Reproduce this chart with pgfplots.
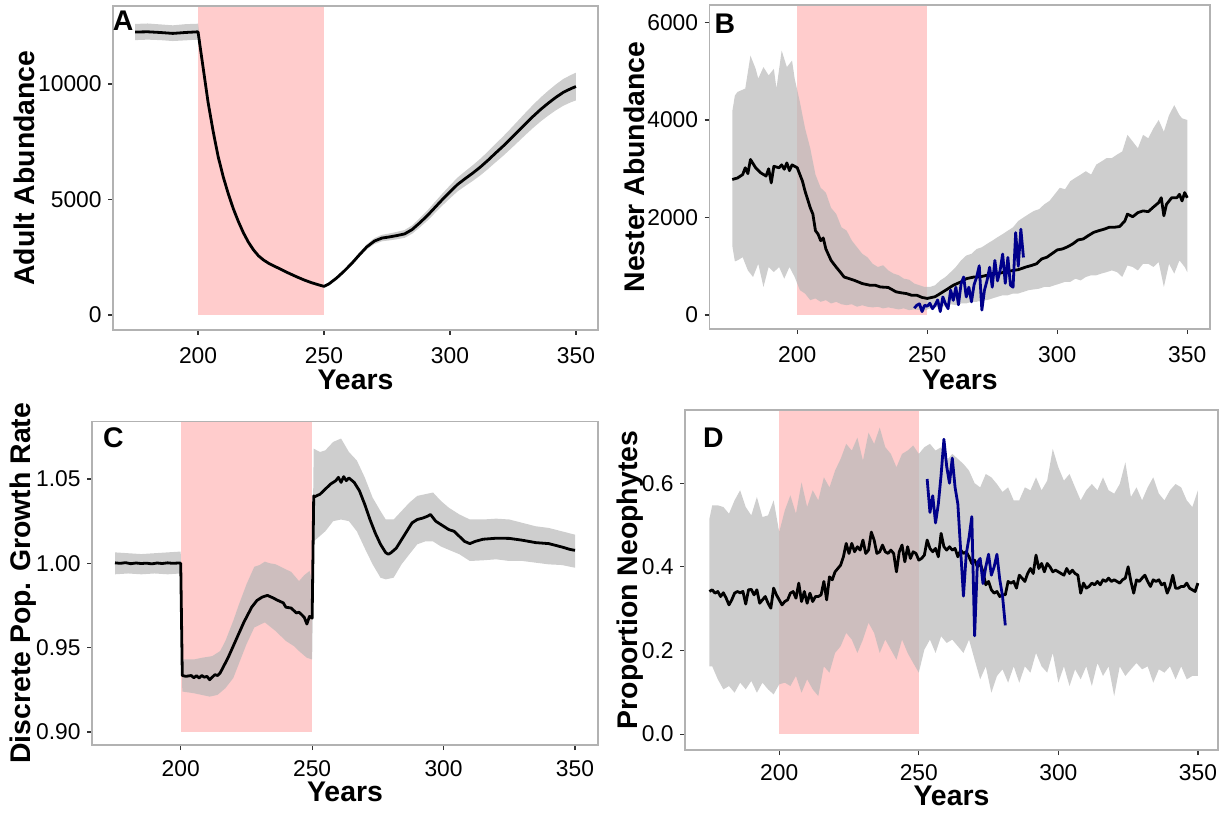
\documentclass[border=0pt]{standalone}
\usepackage{pgfplots}
\pgfplotsset{compat=1.18}
\usepackage{pgfplotstable}
\usepgfplotslibrary{fillbetween}
\usepackage{fontspec}
\setmainfont{Liberation Sans}
\definecolor{pinkc}{RGB}{255,204,204}
\definecolor{ribc}{RGB}{185,185,185}
\definecolor{obsblue}{RGB}{0,0,139}
\newcommand\tickf{\fontsize{11.4}{13}\selectfont}
\newcommand\labf{\fontsize{14.2}{16}\selectfont\bfseries}

\pgfplotstableread{
yr m lo hi
175 12250 11900 12600
180 12260 11920 12620
185 12230 11900 12580
190 12190 11860 12540
195 12230 11890 12590
200 12260 11920 12610
202 10720 10600 10850
204 9200 9080 9320
206 7950 7840 8060
208 6850 6750 6950
210 5980 5890 6070
212 5250 5170 5330
214 4600 4530 4670
216 4050 3990 4110
218 3560 3500 3620
220 3150 3100 3200
222 2820 2770 2870
224 2560 2510 2610
226 2380 2330 2430
228 2240 2190 2290
230 2130 2080 2180
233 1970 1920 2020
236 1810 1760 1860
239 1660 1610 1710
242 1520 1470 1570
245 1400 1350 1450
248 1300 1250 1350
250 1240 1190 1290
252 1350 1290 1410
255 1600 1530 1670
258 1900 1820 1980
261 2230 2140 2320
264 2600 2500 2700
267 2950 2840 3060
270 3200 3070 3330
273 3330 3190 3470
276 3380 3230 3530
279 3440 3280 3600
282 3510 3340 3680
285 3700 3520 3880
288 3990 3790 4190
291 4300 4080 4520
294 4650 4410 4890
297 5000 4740 5260
300 5330 5050 5610
303 5650 5350 5950
306 5900 5580 6220
309 6140 5800 6480
312 6400 6040 6760
315 6690 6310 7070
318 7000 6600 7400
321 7300 6880 7720
324 7620 7180 8060
327 7950 7490 8410
330 8280 7800 8760
333 8600 8100 9100
336 8900 8380 9420
339 9170 8630 9710
342 9420 8860 9980
345 9640 9060 10220
348 9800 9210 10390
350 9890 9290 10490
}\tA

\pgfplotstableread{
yr v
175 2780
177 2810
179 2880
180 3020
181 2900
182 3190
184 3020
186 2915
188 2850
189 3000
190 2710
191 3050
193 3020
194 3080
195 2990
196 3120
197 2960
198 3080
200 3020
202 2745
203 2540
205 2200
206 2070
207 1730
208 1660
209 1525
210 1580
211 1355
213 1120
215 980
217 850
218 780
220 745
222 710
225 645
228 610
230 610
232 575
235 565
238 475
240 455
242 440
244 405
246 405
248 360
250 340
253 375
255 440
258 540
260 610
263 680
265 745
268 780
270 780
273 815
275 850
278 860
280 880
283 915
285 930
288 985
290 1015
292 1050
294 1150
296 1185
298 1260
300 1335
302 1355
304 1400
306 1460
308 1540
310 1560
312 1630
314 1695
316 1730
318 1760
320 1800
322 1800
324 1815
326 1930
327 2070
329 2015
331 2100
333 2135
335 2120
337 2215
339 2305
340 2405
341 2035
342 2270
344 2405
346 2405
347 2475
348 2340
349 2510
350 2405
}\tBm

\pgfplotstableread{
yr v
175 4170
176 4500
177 4575
180 4645
182 5320
184 5050
185 4850
187 5085
189 4915
191 5050
192 4645
194 5425
196 5085
198 5220
199 4850
201 4370
203 3830
205 3420
207 2880
209 2610
211 2510
213 2200
215 2070
217 1800
219 1730
221 1525
223 1390
225 1255
227 1185
229 1050
231 985
233 1020
235 915
237 850
239 815
241 745
243 725
245 645
247 610
249 575
251 575
253 610
255 710
257 780
259 880
261 985
263 1120
265 1220
267 1255
269 1355
271 1390
273 1460
275 1525
277 1595
279 1660
281 1730
283 1800
285 1930
287 2000
289 2070
291 2135
293 2170
295 2270
297 2340
299 2475
301 2610
303 2580
305 2745
307 2815
309 2880
311 2950
313 2880
315 3085
317 3150
319 3220
321 3220
323 3290
325 3355
327 3695
329 3560
331 3420
333 3695
335 3625
337 3830
339 4000
341 3760
343 4100
345 4305
347 4100
348 4035
350 4000
}\tBu

\pgfplotstableread{
yr v
175 1425
176 1100
177 1120
179 1185
181 915
183 780
185 1050
187 575
189 985
191 880
193 985
195 745
197 985
199 780
201 510
203 440
205 305
207 340
209 270
211 305
213 237
215 270
217 220
219 203
221 220
223 170
225 200
227 170
229 156
231 170
233 136
235 156
237 136
239 115
241 136
243 100
245 115
247 100
249 88
251 136
253 156
255 170
257 183
259 220
261 203
263 237
265 237
267 270
269 270
271 305
273 305
275 340
277 373
279 405
281 405
283 440
285 440
287 475
289 510
291 525
293 540
295 575
297 575
299 610
301 645
303 680
305 680
307 745
309 710
311 780
313 815
315 815
317 850
319 880
321 915
323 880
325 780
327 1015
329 985
331 915
333 1050
335 1050
337 985
339 1085
341 575
343 1050
345 850
347 1120
349 985
350 880
}\tBl

\pgfplotstableread{
yr v
245 140
246 200
247 230
248 70
249 200
250 180
251 240
252 130
253 200
254 310
255 70
256 370
257 230
258 130
259 510
260 300
261 570
262 210
263 640
264 780
265 370
266 570
267 270
268 620
269 780
270 1010
271 100
272 510
273 710
274 980
275 570
276 1120
277 700
278 910
279 1250
280 650
281 1180
282 610
283 570
284 1690
285 1000
286 1760
287 1180
}\tBo

\pgfplotstableread{
yr v
175 1.0003
177 1.0000
179 1.0004
181 0.9998
183 1.0002
185 0.9999
187 1.0001
189 0.9997
191 1.0002
193 0.9999
195 1.0003
197 1.0000
199 1.0002
200 1.0001
200.6 0.9335
202 0.9330
204 0.9335
205 0.9322
206 0.9334
207 0.9320
208 0.9335
209 0.9325
210 0.9330
211 0.9310
212 0.9325
213 0.9340
214 0.9335
215 0.9350
216 0.9380
218 0.9440
220 0.9510
222 0.9580
224 0.9650
225 0.9680
227 0.9740
229 0.9780
231 0.9800
233 0.9810
235 0.9796
237 0.9780
239 0.9766
240 0.9740
242 0.9735
244 0.9706
245 0.9710
246 0.9696
247 0.9680
248 0.9640
249 0.9686
250 0.9675
250.6 1.0400
251 1.0395
253 1.0410
255 1.0440
257 1.0470
259 1.0490
260 1.0510
261 1.0480
262 1.0514
263 1.0490
264 1.0506
266 1.0480
268 1.0430
270 1.0350
272 1.0260
274 1.0180
276 1.0113
278 1.0063
279 1.0054
280 1.0063
282 1.0090
284 1.0140
286 1.0190
288 1.0240
290 1.0260
292 1.0268
294 1.0280
295 1.0290
297 1.0250
300 1.0220
302 1.0200
304 1.0190
306 1.0160
308 1.0130
310 1.0117
312 1.0130
315 1.0143
320 1.0149
325 1.0148
330 1.0137
335 1.0123
340 1.0117
345 1.0097
348 1.0083
350 1.0077
}\tCm

\pgfplotstableread{
yr v
175 1.0065
180 1.0060
185 1.0055
190 1.0060
195 1.0065
200 1.0070
200.6 0.9430
205 0.9430
208 0.9440
212 0.9450
215 0.9480
217 0.9540
220 0.9660
222 0.9750
225 0.9875
228 0.9980
230 0.9990
232 1.0010
234 1.0000
236 0.9995
238 0.9980
240 0.9964
242 0.9950
245 0.9895
247 0.9930
249 0.9955
250 0.9900
250.6 1.0680
253 1.0660
255 1.0670
258 1.0720
261 1.0740
264 1.0660
267 1.0610
270 1.0510
273 1.0390
276 1.0310
278 1.0260
281 1.0260
284 1.0310
287 1.0360
290 1.0400
293 1.0410
296 1.0420
299 1.0370
302 1.0330
306 1.0290
310 1.0260
315 1.0260
320 1.0265
325 1.0260
330 1.0240
335 1.0220
340 1.0210
345 1.0190
350 1.0170
}\tCu

\pgfplotstableread{
yr v
175 0.9935
180 0.9940
185 0.9935
190 0.9940
195 0.9935
200 0.9940
200.6 0.9240
205 0.9230
208 0.9220
211 0.9210
214 0.9220
217 0.9260
220 0.9320
222 0.9400
225 0.9520
228 0.9620
232 0.9650
236 0.9600
240 0.9540
243 0.9510
245 0.9480
248 0.9440
250 0.9430
250.6 1.0130
255 1.0190
258 1.0250
261 1.0260
264 1.0250
267 1.0190
270 1.0090
273 0.9994
276 0.9915
278 0.9905
281 0.9915
284 0.9994
287 1.0054
290 1.0113
293 1.0130
296 1.0130
299 1.0100
302 1.0080
306 1.0054
310 1.0014
315 1.0018
320 1.0024
325 1.0014
330 1.0014
335 1.0004
340 0.9994
345 0.9990
350 0.9974
}\tCl

\pgfplotstableread{
yr v
175 .341
176 .345
177 .337
178 .341
179 .329
180 .338
181 .325
182 .309
183 .321
184 .337
185 .341
186 .338
187 .341
188 .311
189 .345
190 .346
191 .333
192 .345
193 .313
194 .321
195 .329
196 .313
197 .301
198 .349
199 .333
200 .321
201 .309
202 .317
203 .321
204 .337
205 .341
206 .325
207 .361
208 .317
209 .341
210 .313
211 .337
212 .317
213 .329
214 .329
215 .333
216 .365
217 .321
218 .376
219 .369
220 .388
221 .396
222 .404
223 .424
224 .456
225 .432
226 .456
227 .436
228 .448
229 .440
230 .464
231 .432
232 .440
233 .483
234 .464
235 .432
236 .436
237 .452
238 .436
239 .432
240 .440
241 .432
242 .388
243 .436
244 .452
245 .412
246 .448
247 .420
248 .436
249 .432
250 .416
251 .420
252 .428
253 .464
254 .444
255 .436
256 .444
257 .424
258 .480
259 .448
260 .440
261 .448
262 .440
263 .444
264 .424
265 .440
266 .432
267 .436
268 .424
269 .408
270 .416
271 .400
272 .408
273 .388
274 .357
275 .365
276 .345
277 .337
278 .341
279 .329
280 .333
281 .333
282 .365
283 .361
284 .365
285 .349
286 .380
287 .373
288 .365
289 .384
290 .396
291 .384
292 .428
293 .396
294 .408
295 .388
296 .408
297 .400
298 .388
299 .392
300 .388
301 .384
302 .380
303 .396
304 .384
305 .392
306 .384
307 .380
308 .337
309 .361
310 .349
311 .353
312 .361
313 .357
314 .365
315 .357
316 .369
317 .365
318 .373
319 .365
320 .369
321 .365
322 .361
323 .369
324 .373
325 .400
326 .365
327 .337
328 .369
329 .365
330 .373
331 .380
332 .365
333 .353
334 .369
335 .365
336 .369
337 .357
338 .361
339 .337
340 .353
341 .380
342 .349
343 .349
344 .353
345 .353
346 .361
347 .349
348 .345
349 .341
350 .361
}\tDm

\pgfplotstableread{
yr v
175 .515
176 .547
178 .547
180 .543
182 .527
184 .559
186 .583
188 .543
190 .523
192 .567
194 .519
196 .523
198 .559
200 .483
202 .535
204 .571
206 .527
208 .602
210 .543
212 .583
214 .559
216 .614
218 .590
220 .630
222 .658
224 .694
226 .678
228 .709
230 .654
232 .721
234 .694
236 .733
238 .686
240 .670
242 .638
244 .670
246 .678
248 .690
250 .670
252 .686
254 .694
256 .678
258 .686
260 .654
262 .670
264 .658
266 .646
268 .630
270 .600
272 .590
274 .622
276 .614
278 .598
280 .579
282 .590
284 .559
286 .559
288 .590
290 .583
292 .614
294 .583
296 .606
298 .682
300 .638
302 .606
304 .622
306 .590
308 .559
310 .583
312 .598
314 .583
316 .614
318 .583
320 .575
322 .598
324 .650
326 .567
328 .590
330 .559
332 .590
334 .614
336 .575
338 .559
340 .583
342 .598
344 .590
346 .559
348 .543
350 .583
}\tDu

\pgfplotstableread{
yr v
175 .162
176 .162
178 .131
180 .107
182 .115
184 .099
186 .123
188 .107
190 .127
192 .099
194 .123
196 .107
198 .095
200 .119
202 .123
204 .115
206 .139
208 .099
210 .131
212 .107
214 .091
216 .162
218 .147
220 .194
222 .210
224 .242
226 .226
228 .194
230 .226
232 .266
234 .242
236 .194
238 .226
240 .202
242 .178
244 .226
246 .194
248 .170
250 .147
252 .202
254 .226
256 .194
258 .234
260 .218
262 .226
264 .210
266 .194
268 .226
270 .178
272 .131
274 .162
276 .099
278 .139
280 .155
282 .123
284 .162
286 .123
288 .162
290 .147
292 .194
294 .162
296 .147
298 .194
300 .123
302 .162
304 .115
306 .155
308 .131
310 .162
312 .115
314 .170
316 .139
318 .162
320 .091
322 .162
324 .139
326 .155
328 .170
330 .155
332 .162
334 .123
336 .155
338 .147
340 .162
342 .131
344 .162
346 .131
348 .139
350 .139
}\tDl

\pgfplotstableread{
yr v
253 0.61
254 0.53
255 0.57
256 0.505
257 0.55
258 0.62
259 0.705
260 0.64
261 0.60
262 0.66
263 0.59
264 0.55
265 0.44
266 0.33
267 0.43
268 0.47
269 0.52
270 0.235
271 0.41
272 0.42
273 0.36
274 0.40
275 0.43
276 0.38
277 0.40
278 0.43
279 0.37
280 0.33
281 0.26
}\tDo

\pgfplotsset{
  panel/.style={
    scale only axis,
    set layers,
    xmin=166.25, xmax=358.75,
    axis line style={draw=black!30, line width=0.6pt},
    tick style={draw=black!80, line width=0.6pt},
    tick align=outside,
    major tick length=2.5pt,
    tick pos=left,
    xtick={200,250,300,350},
    scaled ticks=false,
    /pgf/number format/assume math mode=true,
    /pgf/number format/1000 sep={},
    ticklabel style={font=\tickf, text=black},
    xticklabel style={anchor=north, inner sep=0pt, yshift=-6pt},
    yticklabel style={anchor=east, inner sep=0pt, xshift=-3pt},
    label style={font=\labf},
    xlabel={Years},
    clip=true,
  },
  pinkrect/.style={fill=pinkc, draw=none, on layer=axis background},
  rib/.style={fill=ribc, fill opacity=0.7, draw=none},
  mline/.style={black, line width=1.4pt, line join=round},
  oline/.style={obsblue, line width=1.4pt, line join=round},
}

\begin{document}
\begin{tikzpicture}

% Panel A
\begin{axis}[panel, at={(56.5pt,239pt)}, anchor=south west,
  width=242.5pt, height=162pt,
  ymin=-650, ymax=13377, ytick={0,5000,10000},
  ylabel={Adult Abundance},
  ylabel style={at={(axis description cs:-0.182,0.5)}, anchor=center},
  xlabel style={at={(axis description cs:0.5,0)}, anchor=center, yshift=-25pt}]
\addplot[pinkrect] coordinates {(200,0) (250,0) (250,13377) (200,13377)} -- cycle;
\addplot[draw=none, name path=Au] table[x=yr, y=hi]{\tA};
\addplot[draw=none, name path=Al] table[x=yr, y=lo]{\tA};
\addplot[rib] fill between[of=Au and Al];
\addplot[mline] table[x=yr, y=m]{\tA};
\node[font=\labf, inner sep=0pt, anchor=center] at (axis cs:170.3,12727) {A};
\end{axis}

% Panel B
\begin{axis}[panel, at={(354.75pt,239.5pt)}, anchor=south west,
  width=250.25pt, height=162pt,
  ymin=-287, ymax=6359, ytick={0,2000,4000,6000},
  ylabel={Nester Abundance},
  ylabel style={at={(axis description cs:-0.151,0.5)}, anchor=center},
  xlabel style={at={(axis description cs:0.5,0)}, anchor=center, yshift=-25.2pt}]
\addplot[pinkrect] coordinates {(200,0) (250,0) (250,6359) (200,6359)} -- cycle;
\addplot[draw=none, name path=Bu] table[x=yr, y=v]{\tBu};
\addplot[draw=none, name path=Bl] table[x=yr, y=v]{\tBl};
\addplot[rib] fill between[of=Bu and Bl];
\addplot[mline] table[x=yr, y=v]{\tBm};
\addplot[oline] table[x=yr, y=v]{\tBo};
\node[font=\labf, inner sep=0pt, anchor=center] at (axis cs:172.2,5969) {B};
\end{axis}

% Panel C
\begin{axis}[panel, at={(46pt,31.5pt)}, anchor=south west,
  width=253pt, height=161.75pt,
  ymin=0.8923, ymax=1.0841, ytick={0.90,0.95,1.00,1.05},
  xticklabel style={yshift=1pt},
  yticklabel style={/pgf/number format/fixed, /pgf/number format/fixed zerofill, /pgf/number format/precision=2},
  ylabel={Discrete Pop. Growth Rate},
  ylabel style={at={(axis description cs:-0.137,0.5)}, anchor=center},
  xlabel style={at={(axis description cs:0.5,0)}, anchor=center, yshift=-23.5pt}]
\addplot[pinkrect] coordinates {(200,0.90) (250,0.90) (250,1.0841) (200,1.0841)} -- cycle;
\addplot[draw=none, name path=Cu] table[x=yr, y=v]{\tCu};
\addplot[draw=none, name path=Cl] table[x=yr, y=v]{\tCl};
\addplot[rib] fill between[of=Cu and Cl];
\addplot[mline] table[x=yr, y=v]{\tCm};
\node[font=\labf, inner sep=0pt, anchor=center] at (axis cs:174.4,1.0746) {C};
\end{axis}

% Panel D
\begin{axis}[panel, at={(342.5pt,29pt)}, anchor=south west,
  width=266.5pt, height=170pt,
  xmax=357.2,
  ymin=-0.038, ymax=0.775, ytick={0,0.2,0.4,0.6},
  xticklabel style={yshift=1.6pt},
  yticklabel style={/pgf/number format/fixed, /pgf/number format/fixed zerofill, /pgf/number format/precision=1},
  ylabel={Proportion Neophytes},
  ylabel style={at={(axis description cs:-0.103,0.5)}, anchor=center},
  xlabel style={at={(axis description cs:0.5,0)}, anchor=center, yshift=-23.1pt}]
\addplot[pinkrect] coordinates {(200,0) (250,0) (250,0.775) (200,0.775)} -- cycle;
\addplot[draw=none, name path=Du] table[x=yr, y=v]{\tDu};
\addplot[draw=none, name path=Dl] table[x=yr, y=v]{\tDl};
\addplot[rib] fill between[of=Du and Dl];
\addplot[mline] table[x=yr, y=v]{\tDm};
\addplot[oline] table[x=yr, y=v]{\tDo};
\node[font=\labf, inner sep=0pt, anchor=center] at (axis cs:176.4,0.709) {D};
\end{axis}
\path (0,0) rectangle (609.5pt,404pt);
\end{tikzpicture}
\end{document}
